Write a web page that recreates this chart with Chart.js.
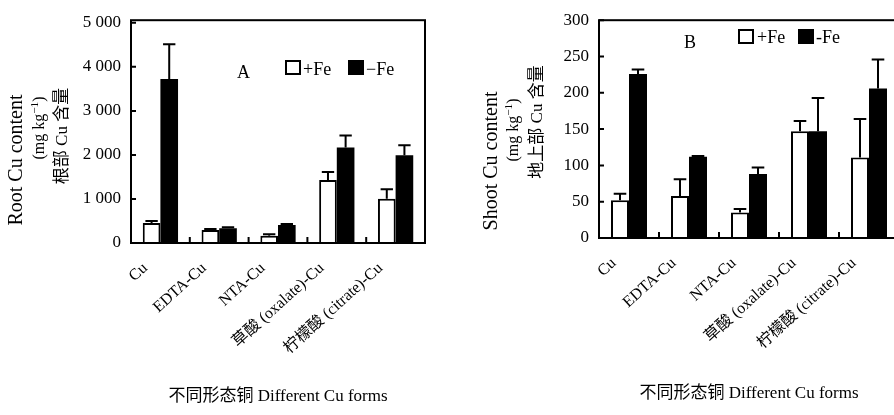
<!DOCTYPE html>
<html>
<head>
<meta charset="utf-8">
<script src="https://cdn.jsdelivr.net/npm/chart.js@4.4.1/dist/chart.umd.min.js"></script>
<style>
    html, body { margin: 0; padding: 0; background: #fff; }
    body { width: 894px; height: 415px; overflow: hidden; position: relative; font-family: 'Liberation Serif', 'Noto Sans CJK SC', serif; color: #000; }
    .panel { position: absolute; top: 0; }
    .tag { position: absolute; font-size: 18px; line-height: 18px; white-space: nowrap; }
    .box { position: absolute; width: 12px; height: 11px; border: 2px solid #000; background: #fff; }
    .box--solid { background: #000; }
    .ytitle { position: absolute; white-space: nowrap; line-height: 1; transform: translate(-50%, -50%) rotate(-90deg); }
    .ytitle sup { font-size: 0.7em; line-height: 0; }
</style>
</head>
<body>
<div class="panel" style="left:0;"><canvas id="chartRoot" width="445" height="415"></canvas></div>
<div class="panel" style="left:449px;"><canvas id="chartShoot" width="466" height="415"></canvas></div>

<div class="ytitle" style="left:15px; top:160px; font-size:20px;">Root Cu content</div>
<div class="ytitle" style="left:39px; top:128px; font-size:16px;">(mg kg<sup>−1</sup>)</div>
<div class="ytitle" style="left:61px; top:136px; font-size:17px;">根部 Cu 含量</div>

<div class="ytitle" style="left:490px; top:161px; font-size:20px;">Shoot Cu content</div>
<div class="ytitle" style="left:513px; top:130px; font-size:16px;">(mg kg<sup>−1</sup>)</div>
<div class="ytitle" style="left:536px; top:122px; font-size:17px;">地上部 Cu 含量</div>

<div class="tag" style="left:237px; top:63px;">A</div>
<div class="box" style="left:285px; top:60px;"></div>
<div class="tag" style="left:303px; top:60px;">+Fe</div>
<div class="box box--solid" style="left:348px; top:60px;"></div>
<div class="tag" style="left:366px; top:60px;">−Fe</div>

<div class="tag" style="left:684px; top:33px;">B</div>
<div class="box" style="left:738px; top:29px;"></div>
<div class="tag" style="left:757px; top:28px;">+Fe</div>
<div class="box box--solid" style="left:798px; top:29px;"></div>
<div class="tag" style="left:816px; top:28px;">-Fe</div>

<script>
    'use strict';

    const categories = ['Cu', 'EDTA-Cu', 'NTA-Cu', '草酸 (oxalate)-Cu', '柠檬酸 (citrate)-Cu'];

    // root Cu content, mg/kg (error = SD above the bar)
    const rootPlusFe = [455, 295, 165, 1430, 1005];
    const rootPlusFeErr = [45, 25, 35, 180, 215];
    const rootMinusFe = [3725, 335, 410, 2170, 1995];
    const rootMinusFeErr = [790, 20, 20, 270, 225];
    const rootTicks = [0, 1000, 2000, 3000, 4000, 5000];
    const rootTickLabels = ['0', '1 000', '2 000', '3 000', '4 000', '5 000'];

    // shoot Cu content, mg/kg
    const shootPlusFe = [52, 58, 35, 147, 111];
    const shootPlusFeErr = [9, 23, 5, 14, 53];
    const shootMinusFe = [226, 112, 88, 147, 206];
    const shootMinusFeErr = [6, 1, 9, 46, 40];
    const shootTicks = [0, 50, 100, 150, 200, 250, 300];
    const shootTickLabels = ['0', '50', '100', '150', '200', '250', '300'];

    const SERIF = "'Liberation Serif', 'Noto Sans CJK SC', serif";
    Chart.defaults.color = '#000';
    Chart.defaults.font.family = SERIF;

    // box frame, inner ticks and error bars
    const framePlugin = {
        id: 'frame',
        afterDatasetsDraw(chart) {
            const { ctx, chartArea: a, scales: { x, y } } = chart;
            const errs = chart.options.plugins.frame.errors;
            ctx.save();
            ctx.strokeStyle = '#000';
            ctx.lineWidth = 2;

            chart.data.datasets.forEach((ds, d) => {
                const meta = chart.getDatasetMeta(d);
                meta.data.forEach((bar, i) => {
                    const top = y.getPixelForValue(ds.data[i] + errs[d][i]);
                    const cap = bar.width * 0.35;
                    ctx.beginPath();
                    ctx.moveTo(bar.x, bar.y);
                    ctx.lineTo(bar.x, top);
                    ctx.moveTo(bar.x - cap, top);
                    ctx.lineTo(bar.x + cap, top);
                    ctx.stroke();
                });
            });

            ctx.beginPath();
            for (let i = 1; i < categories.length; i++) {
                const px = (x.getPixelForValue(i - 1) + x.getPixelForValue(i)) / 2;
                ctx.moveTo(px, a.bottom);
                ctx.lineTo(px, a.bottom - 6);
            }
            y.ticks.forEach(t => {
                const py = y.getPixelForValue(t.value);
                ctx.moveTo(a.left, py);
                ctx.lineTo(a.left + 5, py);
            });
            ctx.stroke();

            ctx.strokeRect(a.left, a.top, a.right - a.left, a.bottom - a.top);
            ctx.restore();
        },
    };

    function buildChart(id, cfg) {
        const canvas = document.getElementById(id);
        return new Chart(canvas, {
            type: 'bar',
            data: {
                labels: categories,
                datasets: [{
                    label: '+Fe',
                    data: cfg.plus,
                    backgroundColor: '#fff',
                    borderColor: '#000',
                    borderWidth: 2,
                    categoryPercentage: 0.6,
                    barPercentage: 1,
                }, {
                    label: '−Fe',
                    data: cfg.minus,
                    backgroundColor: '#000',
                    borderWidth: 0,
                    categoryPercentage: 0.6,
                    barPercentage: 1,
                }],
            },
            options: {
                responsive: false,
                animation: false,
                layout: { padding: cfg.padding },
                plugins: {
                    legend: { display: false },
                    tooltip: { enabled: false },
                    frame: { errors: [cfg.plusErr, cfg.minusErr] },
                },
                scales: {
                    x: {
                        grid: { display: false, drawTicks: false },
                        border: { display: false },
                        ticks: {
                            autoSkip: false,
                            minRotation: 42,
                            maxRotation: 42,
                            padding: 16,
                            labelOffset: -15,
                            font: { size: 16 },
                        },
                        title: {
                            display: true,
                            text: '不同形态铜 Different Cu forms',
                            font: { size: 17 },
                            padding: { top: 4, bottom: 4 },
                        },
                        afterFit: s => { s.height = cfg.xHeight; },
                    },
                    y: {
                        min: 0,
                        max: cfg.max,
                        grid: { display: false, drawTicks: false },
                        border: { display: false },
                        afterBuildTicks: s => { s.ticks = cfg.ticks.map(v => ({ value: v })); },
                        ticks: {
                            padding: 10,
                            font: { size: 17 },
                            callback: (v, i) => cfg.tickLabels[i],
                        },
                        afterFit: s => { s.width = cfg.yWidth; },
                    },
                },
            },
            plugins: [framePlugin],
        });
    }

    buildChart('chartRoot', {
        plus: rootPlusFe,
        plusErr: rootPlusFeErr,
        minus: rootMinusFe,
        minusErr: rootMinusFeErr,
        ticks: rootTicks,
        tickLabels: rootTickLabels,
        max: 5060,
        padding: { left: 0, right: 20, top: 15, bottom: 4 },
        yWidth: 131,
        xHeight: 168,
    });

    buildChart('chartShoot', {
        plus: shootPlusFe,
        plusErr: shootPlusFeErr,
        minus: shootMinusFe,
        minusErr: shootMinusFeErr,
        ticks: shootTicks,
        tickLabels: shootTickLabels,
        max: 300,
        padding: { left: 0, right: 16, top: 15, bottom: 7 },
        yWidth: 150,
        xHeight: 170,
    });
</script>
</body>
</html>
